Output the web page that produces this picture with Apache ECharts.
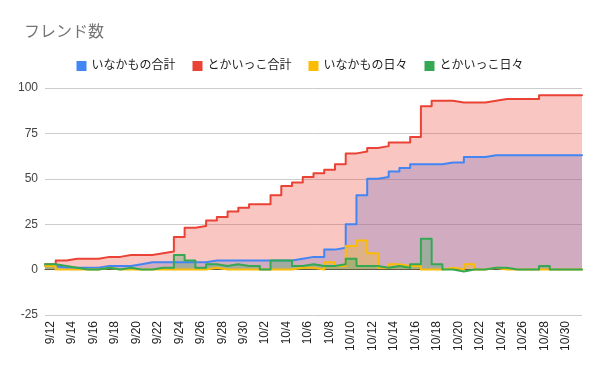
<!DOCTYPE html>
<html>
<head>
<meta charset="utf-8">
<script src="https://cdn.jsdelivr.net/npm/echarts@6/dist/echarts.min.js"></script>
<style>html,body{margin:0;padding:0;background:#fff;}#c{width:600px;height:371px;}</style>
</head>
<body>
<div id="c"></div>
<script>
const dates = ['9/12','9/13','9/14','9/15','9/16','9/17','9/18','9/19','9/20','9/21','9/22','9/23','9/24','9/25','9/26','9/27','9/28','9/29','9/30',
  '10/1','10/2','10/3','10/4','10/5','10/6','10/7','10/8','10/9','10/10','10/11','10/12','10/13','10/14','10/15','10/16','10/17','10/18','10/19','10/20',
  '10/21','10/22','10/23','10/24','10/25','10/26','10/27','10/28','10/29','10/30','10/31'];
const inakaTotal = [2,1,1,1,1,2,2,2,3,4, 4,4,4,4,4,5,5,5,5,5, 5,5,5,6,7,7,11,12,25,41, 50,51,54,56,58,58,58,59,59,62, 62,63,63,63,63,63,63,63,63,63];
const tokaiTotal = [3,5,6,6,6,7,7,8,8,8, 9,10,18,23,24,27,29,32,34,36, 36,41,46,48,51,53,55,58,64,65, 67,68,70,70,73,90,93,93,92,92, 92,93,94,94,94,94,96,96,96,96];
const inakaDaily = [2,0,0,0,0,1,0,0,0,0, 0,0,0,0,0,1,0,0,0,0, 0,0,0,1,1,0,4,2,13,16, 9,1,3,2,2,0,0,1,0,3, 0,1,0,0,0,0,0,0,0,0];
const tokaiDaily = [3,2,1,0,0,1,0,1,0,0, 1,1,8,5,1,3,2,3,2,2, 0,5,5,2,3,2,2,3,6,2, 2,1,2,1,3,17,3,0,-1,0, 0,1,1,0,0,0,2,0,0,0];
const names = ['いなかもの合計','とかいっこ合計','いなかもの日々','とかいっこ日々'];
const colors = ['#4285F4','#EA4335','#FBBC04','#34A853'];
const seriesValues = [inakaTotal, tokaiTotal, inakaDaily, tokaiDaily];

function stepData(vals){
  const d = vals.map((v,i)=>[i-0.5, v]);
  d.push([vals.length-0.5, vals[vals.length-1]]);
  return d;
}
const FONT = "'Liberation Sans', Arial, 'Noto Sans CJK JP', sans-serif";
const chart = echarts.init(document.getElementById('c'), null, {renderer:'canvas'});

const areaSeries = seriesValues.map((vals,k)=>({
  name:names[k], type:'line', xAxisIndex:1, step:'end',
  data:stepData(vals), showSymbol:false, symbol:'none',
  itemStyle:{color:colors[k]},
  lineStyle:{width:0, opacity:0},
  areaStyle:{color:colors[k], opacity:0.3},
  z:1, silent:true
}));
const lineSeries = seriesValues.map((vals,k)=>({
  name:names[k], type:'line', xAxisIndex:1, step:'end',
  data:stepData(vals), showSymbol:false, symbol:'none',
  itemStyle:{color:colors[k]},
  lineStyle:{color:colors[k], width:2, join:'round', cap:'round'},
  z:3
}));

chart.setOption({
  animation:false,
  textStyle:{fontFamily:FONT},
  title:{text:'フレンド数', left:19, top:20, textStyle:{fontSize:16, fontWeight:'normal', color:'#757575', fontFamily:FONT}},
  legend:{
    top:55, left:'center', itemWidth:10, itemHeight:10, itemGap:17,
    icon:'rect',
    textStyle:{fontSize:12, color:'#222', fontFamily:FONT},
    data:names.map((n,k)=>({name:n, itemStyle:{color:colors[k]}}))
  },
  grid:{left:45, right:18, top:88, bottom:56, containLabel:false},
  xAxis:[
    {type:'category', data:dates, boundaryGap:true, position:'bottom',
     axisLine:{show:false, onZero:false}, axisTick:{show:false},
     axisLabel:{interval:1, rotate:90, fontSize:12, color:'#222', margin:6, fontFamily:FONT},
     splitLine:{show:false}},
    {type:'value', min:-0.5, max:dates.length-0.5, show:true,
     axisLine:{show:true, onZero:true, lineStyle:{color:'#333', width:1}},
     axisTick:{show:false}, axisLabel:{show:false}, splitLine:{show:false}}
  ],
  yAxis:{type:'value', min:-25, max:100, interval:25,
    axisLine:{show:false}, axisTick:{show:false},
    axisLabel:{fontSize:12, color:'#444', margin:7, fontFamily:FONT},
    splitLine:{lineStyle:{color:'#cccccc', width:1}}},
  series: areaSeries.concat(lineSeries)
});
</script>
</body>
</html>
